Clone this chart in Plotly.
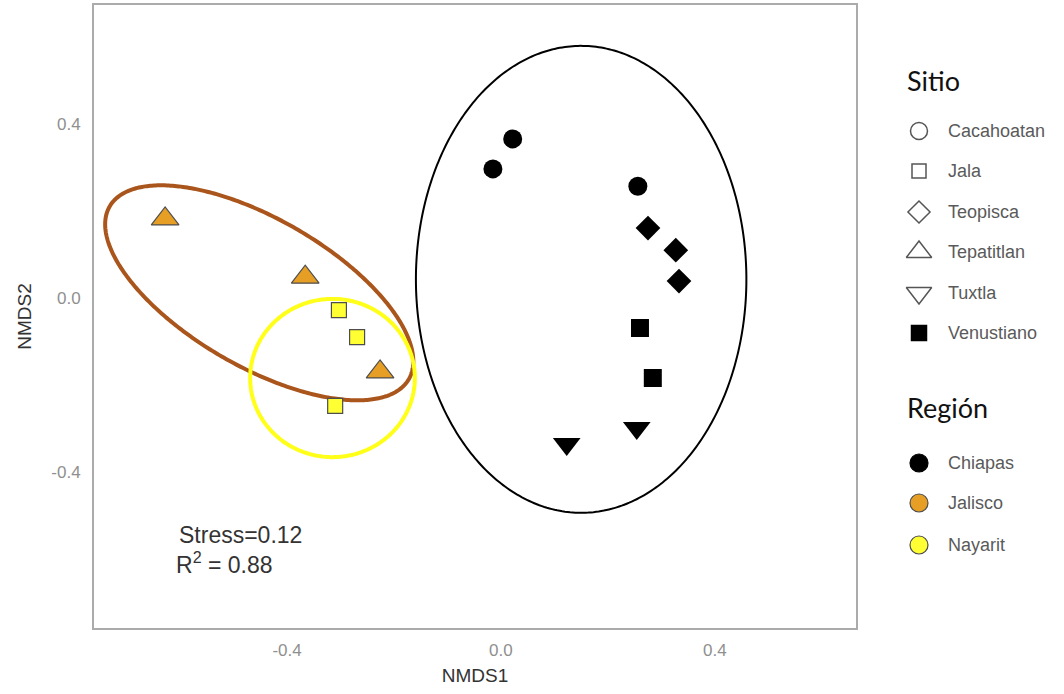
import numpy as np
import plotly.graph_objects as go

# ---------------- data ----------------
sitio_names = ["Cacahoatan", "Jala", "Teopisca", "Tepatitlan", "Tuxtla", "Venustiano"]
region_names = ["Chiapas", "Jalisco", "Nayarit"]

cacahoatan_x = [0.022, -0.015, 0.256]
cacahoatan_y = [0.366, 0.297, 0.257]
teopisca_x = [0.275, 0.327, 0.333]
teopisca_y = [0.161, 0.110, 0.039]
venustiano_x = [0.260, 0.284]
venustiano_y = [-0.069, -0.184]
tuxtla_x = [0.123, 0.254]
tuxtla_y = [-0.336, -0.299]
tepatitlan_x = [-0.628, -0.366, -0.226]
tepatitlan_y = [0.182, 0.048, -0.170]
jala_x = [-0.303, -0.269, -0.310]
jala_y = [-0.028, -0.090, -0.248]

# ellipses: centre (data), semi-axes (data units along x / y before rotation), angle (deg)
ell_chiapas = dict(cx=0.150, cy=0.043, ax=0.309, by=0.537, ang=0)
ell_nayarit = dict(cx=-0.315, cy=-0.184, ax=0.154, by=0.182, ang=0)
ell_jalisco = dict(cx=-0.452, cy=0.012, ax=0.323, by=0.170, ang=-30)

stress_text = "Stress=0.12"
r2_text = "R<sup>2</sup> = 0.88"

# ---------------- layout constants ----------------
W, H = 1064, 694
PL, PR, PT, PB = 94, 856, 5, 628
XR = [-0.761, 0.664]
YR = [-0.759, 0.674]
sx = (PR - PL) / (XR[1] - XR[0])
sy = (PB - PT) / (YR[1] - YR[0])

BLACK = "#000000"
ORANGE = "#E69F24"
YELLOW = "#FFFF33"
EDGE = "#4d4d4d"
SANS = "Liberation Sans, Arial"


def ellipse(p, n=400):
    t = np.linspace(0, 2 * np.pi, n)
    # work in screen-aspect space so the rotation looks right on screen
    a = p["ax"] * sx
    b = p["by"] * sy
    th = np.deg2rad(p["ang"])
    dx = a * np.cos(t) * np.cos(th) - b * np.sin(t) * np.sin(th)
    dy = a * np.cos(t) * np.sin(th) + b * np.sin(t) * np.cos(th)
    return p["cx"] + dx / sx, p["cy"] + dy / sy


fig = go.Figure()

for p, col, lw in [(ell_chiapas, "#000000", 2), (ell_jalisco, "#A9551C", 4), (ell_nayarit, "#FFFF1A", 4)]:
    ex, ey = ellipse(p)
    fig.add_trace(go.Scatter(x=ex, y=ey, mode="lines",
                             line=dict(color=col, width=lw, simplify=False),
                             hoverinfo="skip", showlegend=False))


def pts(x, y, sym, size, fill, edge=None, ew=0):
    fig.add_trace(go.Scatter(
        x=x, y=y, mode="markers", showlegend=False,
        marker=dict(symbol=sym, size=size, color=fill,
                    line=dict(color=edge if edge else fill, width=ew))))


pts(cacahoatan_x, cacahoatan_y, "circle", 19, BLACK)
pts(teopisca_x, teopisca_y, "diamond", 19, BLACK)
pts(venustiano_x, venustiano_y, "square", 18, BLACK)
pts(tuxtla_x, tuxtla_y, "triangle-down", 24, BLACK)
pts(tepatitlan_x, tepatitlan_y, "triangle-up", 24, ORANGE, EDGE, 1.2)
pts(jala_x, jala_y, "square", 15, YELLOW, EDGE, 1.2)

# ---------------- manual legend on an auxiliary pixel axis ----------------
LX0 = 870
sym_x = 919
txt_x = 946
sitio_syms = ["circle-open", "square-open", "diamond-open", "triangle-up-open", "triangle-down-open", "square"]
sitio_sizes = [17, 14, 17, 22, 22, 15]
sitio_y = [131, 171, 212, 252, 293, 333]
for s, sz, yy, name in zip(sitio_syms, sitio_sizes, sitio_y, sitio_names):
    filled = not s.endswith("open")
    fig.add_trace(go.Scatter(
        x=[sym_x], y=[yy], xaxis="x2", yaxis="y2", mode="markers", showlegend=False,
        hoverinfo="skip",
        marker=dict(symbol=s, size=sz, color=BLACK if filled else "#555555",
                    line=dict(color="#555555" if not filled else BLACK, width=1.5))))
    fig.add_annotation(x=txt_x, y=yy, xref="x2", yref="y2", text=name, showarrow=False,
                       xanchor="left", yanchor="middle",
                       font=dict(family=SANS, size=18, color="#5a5a5a"))

reg_y = [463, 503, 545]
reg_cols = [BLACK, ORANGE, YELLOW]
for c, yy, name in zip(reg_cols, reg_y, region_names):
    fig.add_trace(go.Scatter(
        x=[sym_x], y=[yy], xaxis="x2", yaxis="y2", mode="markers", showlegend=False,
        hoverinfo="skip",
        marker=dict(symbol="circle", size=18, color=c,
                    line=dict(color=BLACK if c == BLACK else EDGE, width=1.2))))
    fig.add_annotation(x=txt_x, y=yy, xref="x2", yref="y2", text=name, showarrow=False,
                       xanchor="left", yanchor="middle",
                       font=dict(family=SANS, size=18, color="#5a5a5a"))

fig.add_annotation(x=905, y=80, xref="x2", yref="y2", text="Sitio", showarrow=False,
                   xanchor="left", yanchor="middle",
                   font=dict(family="Lato, Open Sans", size=27, color="#111111"))
fig.add_annotation(x=905, y=407, xref="x2", yref="y2", text="Región", showarrow=False,
                   xanchor="left", yanchor="middle",
                   font=dict(family="Lato, Open Sans", size=27, color="#111111"))

# stress / R2 text
fig.add_annotation(x=-0.606, y=-0.546, xref="x", yref="y", text=stress_text, showarrow=False,
                   xanchor="left", yanchor="middle",
                   font=dict(family=SANS, size=23, color="#333333"))
fig.add_annotation(x=-0.612, y=-0.610, xref="x", yref="y", text=r2_text, showarrow=False,
                   xanchor="left", yanchor="middle",
                   font=dict(family=SANS, size=23, color="#333333"))

fig.update_layout(
    width=W, height=H,
    margin=dict(l=0, r=0, t=0, b=0),
    paper_bgcolor="white", plot_bgcolor="white",
    showlegend=False,
    xaxis=dict(domain=[PL / W, PR / W], range=XR, showgrid=False, zeroline=False,
               tickvals=[-0.4, 0.0, 0.4], ticktext=["-0.4", "0.0", "0.4"],
               ticks="", showline=True, mirror=True, linecolor="#ababab", linewidth=2,
               ticklabelstandoff=6,
               tickfont=dict(family=SANS, size=17, color="#8f8f8f"),
               title=dict(text="NMDS1", standoff=9,
                          font=dict(family=SANS, size=19, color="#333333"))),
    yaxis=dict(domain=[1 - PB / H, 1 - PT / H], range=YR, showgrid=False, zeroline=False,
               tickvals=[-0.4, 0.0, 0.4], ticktext=["-0.4", "0.0", "0.4"],
               ticks="", showline=True, mirror=True, linecolor="#ababab", linewidth=2,
               ticklabelstandoff=8,
               tickfont=dict(family=SANS, size=17, color="#8f8f8f"),
               title=dict(text="NMDS2", standoff=15,
                          font=dict(family=SANS, size=19, color="#333333"))),
    xaxis2=dict(domain=[LX0 / W, 1.0], range=[LX0, W], visible=False, fixedrange=True),
    yaxis2=dict(domain=[0, 1], range=[H, 0], visible=False, fixedrange=True, anchor="x2"),
)
fig.update_traces(cliponaxis=False)

fig.write_html("out.html")
